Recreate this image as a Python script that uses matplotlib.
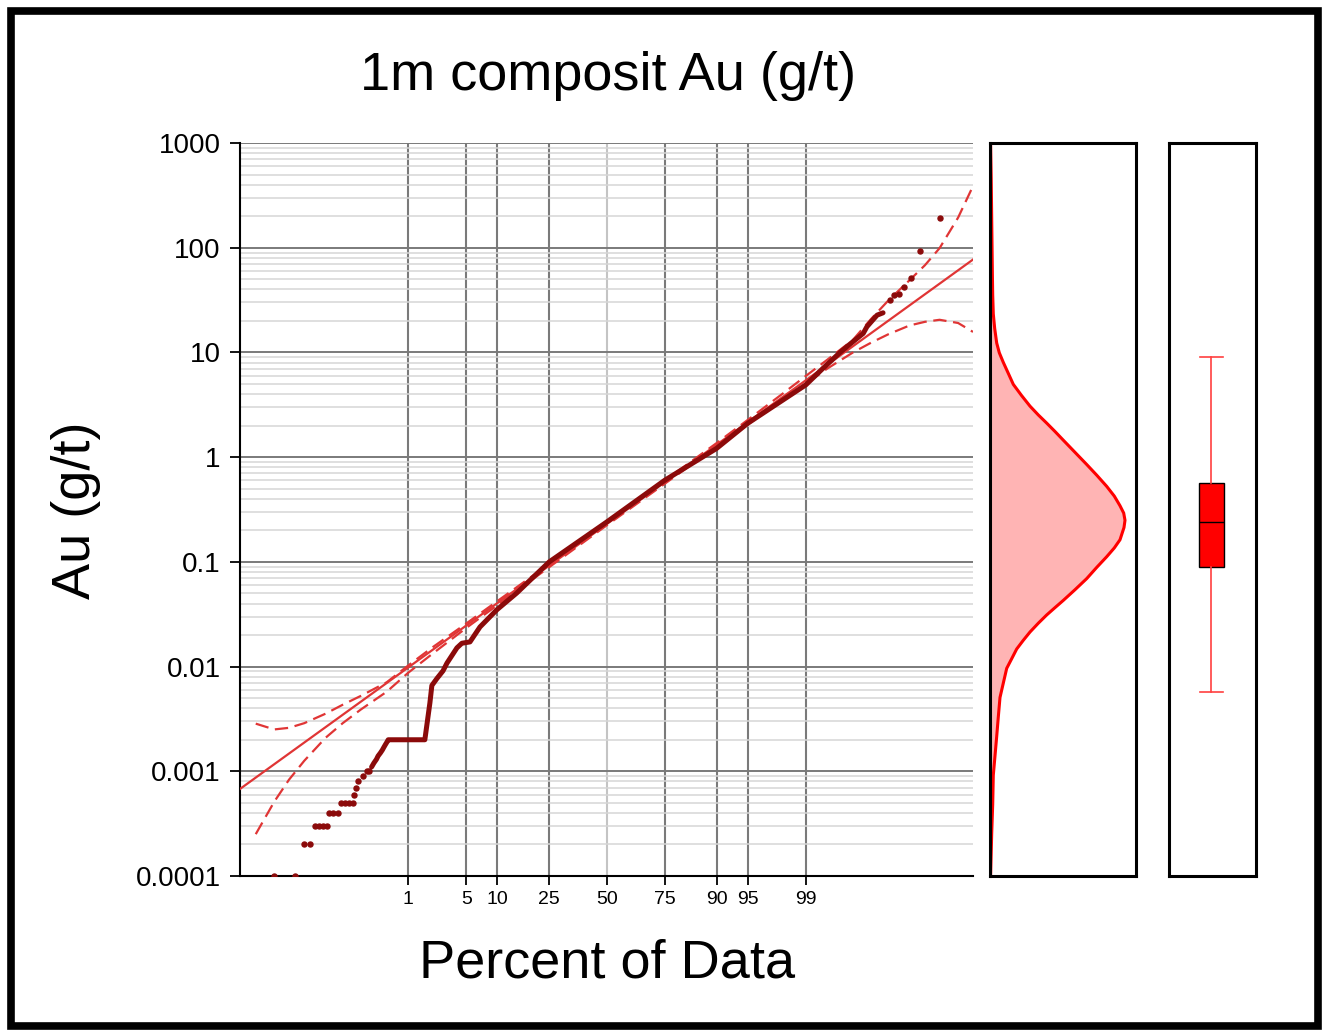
import math
import numpy as np
import matplotlib
matplotlib.use("Agg")
import matplotlib.pyplot as plt
from matplotlib.patches import Rectangle
from matplotlib.ticker import NullLocator, NullFormatter, LogLocator

plt.rcParams['font.family'] = ['Liberation Sans', 'DejaVu Sans']

# --- data (percent of data, Au g/t) ---
low_pct = [0.005, 0.013, 0.0194, 0.026, 0.0319, 0.0379, 0.0447, 0.0528,
           0.0575, 0.069, 0.0827, 0.0933, 0.109, 0.127, 0.148, 0.155,
           0.166, 0.181, 0.219, 0.247, 0.268]
low_au = [0.0001, 0.0001, 0.0002, 0.0002, 0.0003, 0.0003, 0.0003, 0.0003,
          0.0004, 0.0004, 0.0004, 0.0005, 0.0005, 0.0005, 0.0005, 0.0006,
          0.0007, 0.0008, 0.0009, 0.001, 0.001]

main_pct = [0.296, 0.321, 0.351, 0.372, 0.404, 0.432, 0.455, 0.479, 0.504,
            0.526, 1.66, 1.92, 2.03, 2.34, 2.76, 3.07, 3.97, 4.49, 5.46,
            6.88, 9.91, 14.6, 25, 50, 75, 90, 95, 99, 99.405, 99.68,
            99.776, 99.864, 99.882, 99.921, 99.938]
main_au = [0.0011, 0.0012, 0.0013, 0.0014, 0.0015, 0.0016, 0.0017, 0.0018,
           0.0019, 0.002, 0.002, 0.0045, 0.0066, 0.0077, 0.0091, 0.0108,
           0.0151, 0.0167, 0.0172, 0.0239, 0.0349, 0.0505, 0.100, 0.241,
           0.60, 1.21, 2.10, 4.9, 6.9, 10, 12.0, 15.2, 17.6, 22.7, 23.9]

high_pct = [99.954, 99.960, 99.9677, 99.9748, 99.9812, 99.98761, 99.99515]
high_au = [31.6, 35, 36, 42.5, 51, 93, 194]

fit_pct = [0.000887, 99.999072]
fit_au = [0.000678, 77.1]

band_pct = [0.002, 0.005, 0.01, 0.02, 0.05, 0.1, 0.2, 0.5, 1, 2, 5, 10, 25,
            50, 75, 90, 95, 98, 99, 99.5, 99.8, 99.9, 99.95, 99.98, 99.99,
            99.995, 99.998, 99.999, 99.999072]
band_hi = [0.00285, 0.00251, 0.0026, 0.00288, 0.00355, 0.00432, 0.00525,
           0.00708, 0.0102, 0.0150, 0.0258, 0.0422, 0.0955, 0.237, 0.596,
           1.36, 2.26, 4.03, 5.96, 8.5, 13.2, 20.9, 31.3, 49, 68, 99, 194,
           363, 395]
band_lo = [0.000251, 0.000513, 0.00083, 0.00126, 0.00209, 0.00288, 0.00389,
           0.00575, 0.0087, 0.0130, 0.0234, 0.0386, 0.0891, 0.224, 0.556,
           1.26, 2.04, 3.51, 5.01, 7.0, 10, 12.4, 14.9, 18.1, 19.6, 20.5,
           19.1, 16.0, 15.7]

pct_ticks = [1, 5, 10, 25, 50, 75, 90, 95, 99]
au_ticks = [0.0001, 0.001, 0.01, 0.1, 1, 10, 100, 1000]
au_labels = ['0.0001', '0.001', '0.01', '0.1', '1', '10', '100', '1000']

# density of log10(Au)
dens_log = [3.0, 2.666, 1.739, 1.548, 1.368, 1.228, 1.090, 0.997, 0.905,
            0.813, 0.695, 0.588, 0.487, 0.403, 0.325, 0.245, 0.162, 0.046,
            -0.070, -0.172, -0.279, -0.372, -0.464, -0.534, -0.603, -0.672,
            -0.789, -0.867, -0.951, -1.053, -1.160, -1.266, -1.368, -1.437,
            -1.507, -1.586, -1.670, -1.749, -1.832, -1.925, -2.017, -2.158,
            -2.295, -2.482, -2.667, -2.853, -3.037, -3.317, -3.594, -3.965,
            -4.0]
dens_val = [0.003, 0.006, 0.012, 0.0135, 0.0165, 0.0235, 0.0335, 0.0465,
            0.0665, 0.0885, 0.1165, 0.158, 0.20, 0.2415, 0.2835, 0.325,
            0.3665, 0.425, 0.4835, 0.5335, 0.5835, 0.6215, 0.65, 0.6685,
            0.675, 0.67, 0.65, 0.6215, 0.5835, 0.5335, 0.4835, 0.425, 0.3665,
            0.325, 0.2835, 0.2415, 0.20, 0.1665, 0.1335, 0.1085, 0.0835,
            0.0665, 0.05, 0.0415, 0.0335, 0.025, 0.0165, 0.0135, 0.0085,
            0.0035, 0.003]

# box plot summary
box_whislo = 0.0057
box_q1 = 0.089
box_med = 0.24
box_q3 = 0.566
box_whishi = 9.0

data_c = '#8b0a0a'
fit_c = '#e03535'

_erf = np.vectorize(math.erf, otypes=[float])


def pct_to_z(p):
    p = np.clip(np.asarray(p, dtype=float) / 100.0, 1e-12, 1 - 1e-12)
    lo = np.full(p.shape, -8.0)
    hi = np.full(p.shape, 8.0)
    for _ in range(55):
        mid = 0.5 * (lo + hi)
        below = 0.5 * (1.0 + _erf(mid / math.sqrt(2))) < p
        lo = np.where(below, mid, lo)
        hi = np.where(below, hi, mid)
    return 0.5 * (lo + hi)


def z_to_pct(z):
    z = np.asarray(z, dtype=float)
    return 50.0 * (1.0 + _erf(z / math.sqrt(2)))


W, H = 1327, 1032
fig = plt.figure(figsize=(W / 100, H / 100), dpi=100)


def place(l, t, r, b):
    return [l / W, 1 - b / H, (r - l) / W, (b - t) / H]


ax = fig.add_axes(place(240, 143, 973, 876))
ax_d = fig.add_axes(place(990, 143, 1136, 876))
ax_b = fig.add_axes(place(1169, 143, 1256, 876))

# probability plot
ax.set_xscale('function', functions=(pct_to_z, z_to_pct))
ax.set_yscale('log')

ax.plot(band_pct, band_hi, color=fit_c, lw=1.6, ls=(0, (6, 3)), zorder=3)
ax.plot(band_pct, band_lo, color=fit_c, lw=1.6, ls=(0, (6, 3)), zorder=3)
ax.plot(fit_pct, fit_au, color=fit_c, lw=1.6, zorder=3)
ax.plot(main_pct, main_au, color=data_c, lw=3.6, solid_joinstyle='round',
        solid_capstyle='round', zorder=4)
ax.plot(low_pct, low_au, 'o', ms=3.6, color=data_c, zorder=4)
ax.plot(high_pct, high_au, 'o', ms=3.6, color=data_c, zorder=4)

ax.set_xlim(fit_pct[0], fit_pct[1])
ax.set_ylim(1e-4, 1e3)
ax.set_xticks(pct_ticks, [str(t) for t in pct_ticks])
ax.xaxis.set_minor_locator(NullLocator())
ax.set_yticks(au_ticks, au_labels)
ax.yaxis.set_minor_locator(LogLocator(base=10, subs=np.arange(2, 10)))
ax.yaxis.set_minor_formatter(NullFormatter())
ax.tick_params(axis='y', which='minor', length=0)
ax.tick_params(axis='y', which='major', length=7, width=1.3, pad=7,
               labelsize=20)
ax.tick_params(axis='x', length=6.5, width=1.3, pad=4.5, labelsize=14)

ax.grid(True, which='minor', axis='y', color='#d6d6d6', lw=1.1)
ax.grid(True, which='major', axis='y', color='#7a7a7a', lw=1.4)
ax.grid(True, which='major', axis='x', color='#7a7a7a', lw=1.5)
ax.set_axisbelow(True)
ax.get_xgridlines()[4].set_color('#c4c4c4')
ax.xaxis.get_major_ticks()[4].tick1line.set_color('#aaaaaa')

for s in ['top', 'right']:
    ax.spines[s].set_visible(False)
for s in ['left', 'bottom']:
    ax.spines[s].set_linewidth(1.5)

# density panel
ax_d.fill_betweenx(dens_log, 0, dens_val, color='#ffb4b4', lw=0)
ax_d.plot(dens_val, dens_log, color='#ff0000', lw=2.2,
          solid_joinstyle='round')
ax_d.set_xlim(0, 0.73)
ax_d.set_ylim(-4, 3)
ax_d.set_xticks([])
ax_d.set_yticks([])
for s in ax_d.spines.values():
    s.set_linewidth(2.2)

# box panel
stats = [dict(med=box_med, q1=box_q1, q3=box_q3, whislo=box_whislo,
              whishi=box_whishi, fliers=[])]
ax_b.bxp(stats, positions=[0.4885], widths=0.287, capwidths=0.253,
         patch_artist=True, showfliers=False,
         boxprops=dict(facecolor='#ff0000', edgecolor='black', lw=1),
         medianprops=dict(color='black', lw=1),
         whiskerprops=dict(color='#ff4040', lw=1.2),
         capprops=dict(color='#ff4040', lw=1.2))
ax_b.set_yscale('log')
ax_b.set_ylim(1e-4, 1e3)
ax_b.set_xlim(0, 1)
ax_b.set_xticks([])
ax_b.set_yticks([])
ax_b.yaxis.set_minor_locator(NullLocator())
for s in ax_b.spines.values():
    s.set_linewidth(2.2)

# texts
fig.text(608.5 / W, 1 - 90 / H, '1m composit Au (g/t)', ha='center',
         va='baseline', fontsize=39)
fig.text(607 / W, 1 - 978 / H, 'Percent of Data', ha='center',
         va='baseline', fontsize=39)
fig.text(76 / W, 1 - 510 / H, 'Au (g/t)', rotation=90, ha='center',
         va='center', fontsize=39)

# outer frame
fig.patches.append(Rectangle((11 / W, 6 / H), 1306.5 / W, 1015 / H,
                             transform=fig.transFigure, fill=False,
                             lw=5.5, ec='black'))

fig.savefig('out.png', dpi=100)
